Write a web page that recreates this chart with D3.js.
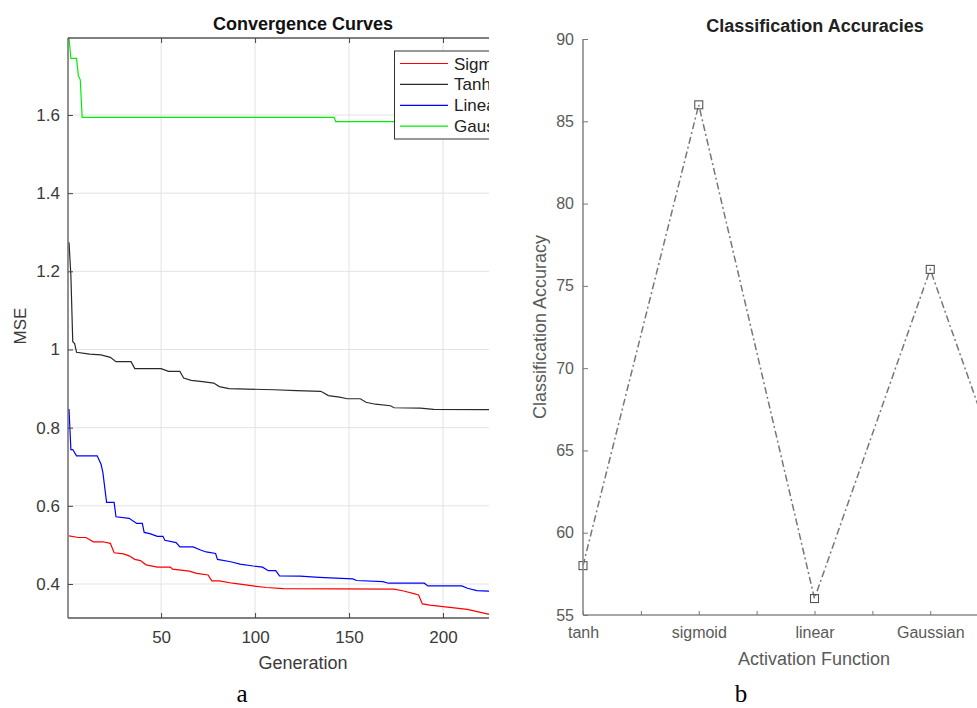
<!DOCTYPE html>
<html>
<head>
<meta charset="utf-8">
<script src="https://cdn.jsdelivr.net/npm/d3@7"></script>
<style>
  body { margin: 0; background: #fff; }
  svg { display: block; font-family: Arial, "Liberation Sans", sans-serif; }
</style>
</head>
<body>
<svg id="fig"></svg>
<script>
// ---- panel a: convergence curves (generation, MSE) breakpoints ----
const sigmoidMSE = [[1,0.523],[6,0.519],[10,0.519],[14,0.508],[19,0.508],[23,0.504],[25,0.480],[30,0.477],[33,0.472],[36,0.463],[39,0.460],[42,0.449],[48,0.443],[55,0.443],[56,0.438],[65,0.433],[69,0.427],[75,0.423],[77,0.408],[81,0.408],[88,0.402],[99,0.395],[106,0.391],[115,0.388],[174,0.387],[179,0.382],[184,0.376],[187,0.372],[189,0.349],[193,0.346],[200,0.342],[213,0.335],[224,0.323],[250,0.313]];
const tanhMSE = [[1,1.274],[2,1.19],[3,1.02],[4,1.015],[5,0.993],[12,0.988],[18,0.986],[23,0.980],[26,0.969],[34,0.969],[36,0.951],[50,0.951],[54,0.944],[60,0.944],[62,0.927],[66,0.921],[72,0.918],[78,0.914],[81,0.905],[86,0.900],[110,0.897],[122,0.895],[135,0.893],[139,0.882],[145,0.878],[149,0.874],[156,0.874],[159,0.865],[164,0.860],[172,0.856],[174,0.851],[188,0.850],[195,0.847],[224,0.846],[250,0.845]];
const linearMSE = [[1,0.848],[2,0.744],[3,0.744],[5,0.728],[16,0.728],[18,0.707],[19,0.686],[21,0.609],[25,0.609],[26,0.572],[33,0.568],[37,0.555],[40,0.555],[41,0.532],[44,0.529],[48,0.522],[51,0.522],[52,0.512],[58,0.506],[60,0.495],[67,0.495],[71,0.487],[74,0.482],[79,0.478],[80,0.463],[87,0.457],[92,0.451],[99,0.446],[104,0.443],[107,0.434],[111,0.434],[113,0.421],[124,0.420],[134,0.417],[152,0.413],[154,0.409],[168,0.406],[171,0.402],[190,0.402],[192,0.395],[210,0.395],[213,0.389],[218,0.383],[224,0.382],[250,0.375]];
const gaussMSE = [[1,1.797],[2,1.745],[5,1.745],[6,1.70],[7,1.69],[8,1.594],[142,1.594],[143,1.583],[250,1.583]];
const seriesNames = ['Sigmoid', 'Tanh', 'Linear', 'Gaussian'];
const seriesColors = ['#ff0000', '#2a2a2a', '#0000ff', '#00ee00'];
const genTicks = [50, 100, 150, 200, 250];
const mseTicks = [0.4, 0.6, 0.8, 1, 1.2, 1.4, 1.6];

// ---- panel b: classification accuracies (5th category lies outside the picture) ----
const activations = ['tanh', 'sigmoid', 'linear', 'Gaussian', ''];
const accuracies = [58, 86, 56, 76, 56];
const accTicks = [55, 60, 65, 70, 75, 80, 85, 90];

const svg = d3.select('#fig').attr('width', 977).attr('height', 708);
const defs = svg.append('defs');
defs.append('clipPath').attr('id', 'panelA').append('rect').attr('x', 0).attr('y', 0).attr('width', 489).attr('height', 708);
defs.append('clipPath').attr('id', 'plotA').append('rect').attr('x', 68).attr('y', 37).attr('width', 421).attr('height', 582);

// ===== panel a =====
const xL = d3.scaleLinear().domain([1, 250]).range([69, 537]);
const yL = d3.scaleLinear().domain([0.313, 1.797]).range([618, 38]);
const gA = svg.append('g').attr('clip-path', 'url(#panelA)');

// grid
gA.append('g').selectAll('line').data(genTicks).enter().append('line')
  .attr('x1', d => xL(d)).attr('x2', d => xL(d)).attr('y1', 38).attr('y2', 618)
  .attr('stroke', '#e3e3e3').attr('stroke-width', 1);
gA.append('g').selectAll('line').data(mseTicks).enter().append('line')
  .attr('x1', 68).attr('x2', 537).attr('y1', d => yL(d)).attr('y2', d => yL(d))
  .attr('stroke', '#e3e3e3').attr('stroke-width', 1);

// curves
const lineL = d3.line().x(d => xL(d[0])).y(d => yL(d[1]));
const allSeries = [sigmoidMSE, tanhMSE, linearMSE, gaussMSE];
gA.append('g').attr('clip-path', 'url(#plotA)').selectAll('path').data(allSeries).enter().append('path')
  .attr('d', d => lineL(d)).attr('fill', 'none')
  .attr('stroke', (d, i) => seriesColors[i]).attr('stroke-width', 1.2);

// axes (ticks inward, box)
const axB = gA.append('g').attr('transform', 'translate(0,618)')
  .call(d3.axisBottom(xL).tickValues(genTicks).tickSize(-5).tickPadding(13));
const axT = gA.append('g').attr('transform', 'translate(0,38)')
  .call(d3.axisTop(xL).tickValues(genTicks).tickSize(-5).tickFormat(''));
const axLft = gA.append('g').attr('transform', 'translate(68,0)')
  .call(d3.axisLeft(yL).tickValues(mseTicks).tickSize(-5).tickPadding(8).tickFormat(d3.format('~g')));
[axB, axT, axLft].forEach(a => {
  a.select('.domain').attr('stroke', '#555').attr('stroke-width', 1.3);
  a.selectAll('.tick line').attr('stroke', '#444');
  a.selectAll('text').attr('font-size', 17).attr('fill', '#3a3a3a').attr('font-family', 'Arial, "Liberation Sans", sans-serif');
});
axB.select('.domain').attr('d', 'M68,0H537');
axT.select('.domain').attr('d', 'M68,0H537');
axLft.select('.domain').attr('d', 'M0,38V618');

gA.append('text').attr('x', 303).attr('y', 30).attr('text-anchor', 'middle')
  .attr('font-size', 18).attr('font-weight', 'bold').attr('fill', '#111').text('Convergence Curves');
gA.append('text').attr('x', 303).attr('y', 669).attr('text-anchor', 'middle')
  .attr('font-size', 18).attr('fill', '#3a3a3a').text('Generation');
gA.append('text').attr('transform', 'translate(26,326) rotate(-90)').attr('text-anchor', 'middle')
  .attr('font-size', 17).attr('fill', '#3a3a3a').text('MSE');

// legend
const leg = gA.append('g');
leg.append('rect').attr('x', 394.5).attr('y', 51).attr('width', 130).attr('height', 88)
  .attr('fill', '#fff').attr('stroke', '#333').attr('stroke-width', 1);
seriesNames.forEach((name, i) => {
  const yy = 63.5 + i * 20.9;
  leg.append('line').attr('x1', 400).attr('x2', 448).attr('y1', yy).attr('y2', yy)
    .attr('stroke', seriesColors[i]).attr('stroke-width', 1.2);
  leg.append('text').attr('x', 454).attr('y', yy + 6).attr('font-size', 17).attr('fill', '#222').text(name);
});

// ===== panel b =====
const xR = d3.scaleLinear().domain([1, 5]).range([583, 1046]);
const yR = d3.scaleLinear().domain([55, 90]).range([615, 39]);
const gB = svg.append('g');

gB.append('path').datum(accuracies)
  .attr('d', d3.line().x((d, i) => xR(i + 1)).y(d => yR(d)))
  .attr('fill', 'none').attr('stroke', '#777').attr('stroke-width', 1.5)
  .attr('stroke-dasharray', '7,3,2,3');
gB.selectAll('rect.mk').data(accuracies).enter().append('rect').attr('class', 'mk')
  .attr('x', (d, i) => xR(i + 1) - 4).attr('y', d => yR(d) - 4).attr('width', 8).attr('height', 8)
  .attr('fill', 'none').attr('stroke', '#555').attr('stroke-width', 1.1);

const axRB = gB.append('g').attr('transform', 'translate(0,615)')
  .call(d3.axisBottom(xR).tickValues(d3.range(1, 5.01, 0.5)).tickSize(-4).tickPadding(12)
    .tickFormat(d => Number.isInteger(d) ? activations[d - 1] : ''));
const axRL = gB.append('g').attr('transform', 'translate(583,0)')
  .call(d3.axisLeft(yR).tickValues(accTicks).tickSize(-5).tickPadding(9));
[axRB, axRL].forEach(a => {
  a.select('.domain').attr('stroke', '#8a8a8a').attr('stroke-width', 1.6);
  a.selectAll('.tick line').attr('stroke', '#777');
  a.selectAll('text').attr('font-size', 16).attr('fill', '#5a5a5a').attr('font-family', 'Arial, "Liberation Sans", sans-serif');
});
axRB.select('.domain').attr('d', 'M583,0H1046');
axRL.select('.domain').attr('d', 'M0,39V615');

gB.append('text').attr('x', 815).attr('y', 32).attr('text-anchor', 'middle')
  .attr('font-size', 18).attr('font-weight', 'bold').attr('fill', '#222').text('Classification Accuracies');
gB.append('text').attr('x', 814).attr('y', 665).attr('text-anchor', 'middle')
  .attr('font-size', 18).attr('fill', '#5a5a5a').text('Activation Function');
gB.append('text').attr('transform', 'translate(546,327) rotate(-90)').attr('text-anchor', 'middle')
  .attr('font-size', 18).attr('fill', '#5a5a5a').text('Classification Accuracy');

// subfigure letters
svg.append('text').attr('x', 242).attr('y', 702).attr('text-anchor', 'middle')
  .attr('font-family', '"Liberation Serif", "Times New Roman", serif').attr('font-size', 25).attr('fill', '#000').text('a');
svg.append('text').attr('x', 741).attr('y', 702).attr('text-anchor', 'middle')
  .attr('font-family', '"Liberation Serif", "Times New Roman", serif').attr('font-size', 25).attr('fill', '#000').text('b');
</script>
</body>
</html>
